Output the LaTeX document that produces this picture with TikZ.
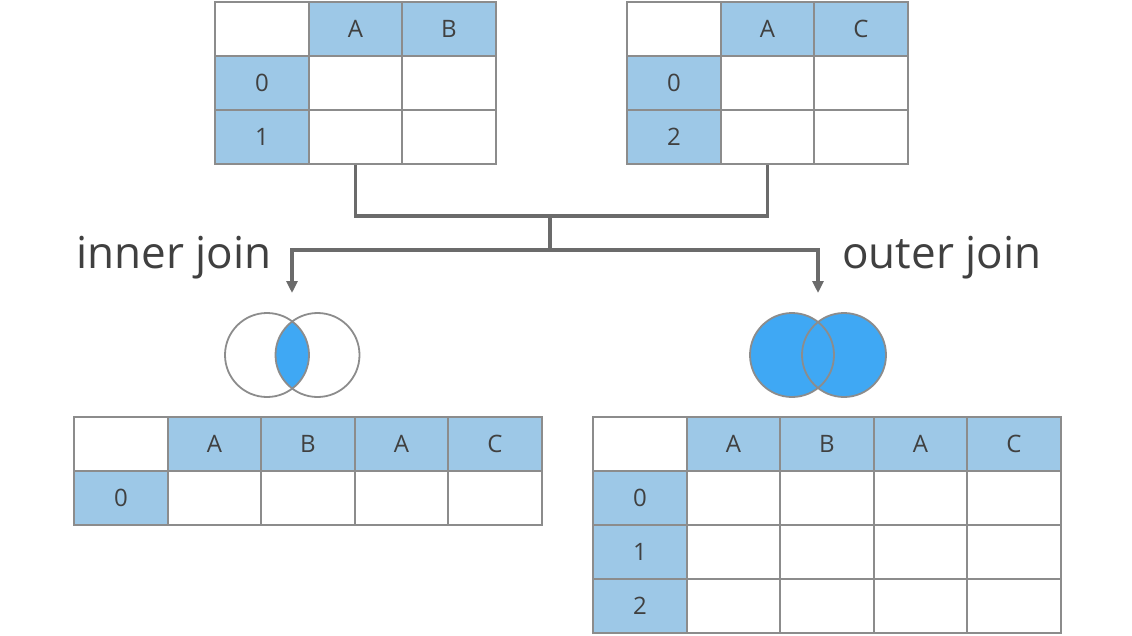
\documentclass[tikz,border=0pt]{standalone}
\usepackage{fontspec}
\setmainfont{Open Sans}
\usetikzlibrary{arrows.meta}

\definecolor{hdrblue}{HTML}{9DC8E7}
\definecolor{vennblue}{HTML}{3FA8F4}
\definecolor{gridgray}{HTML}{8C8C8C}
\definecolor{linegray}{HTML}{6B6B6B}
\definecolor{txtgray}{HTML}{404040}

\tikzset{
  cell/.style={draw=gridgray, line width=1.8pt, minimum width=93.4pt,
    minimum height=54pt, inner sep=0pt, text=txtgray,
    font=\fontsize{24}{26}\selectfont},
  hdr/.style={cell, fill=hdrblue},
  conn/.style={draw=linegray, line width=3.5pt},
  venn/.style={circle, draw=gridgray, line width=1.8pt, minimum size=84pt, inner sep=0pt},
  joinlbl/.style={anchor=base west, inner sep=0pt, text=txtgray,
    font=\fontsize{44}{48}\selectfont}
}

\begin{document}
\begin{tikzpicture}[x=1pt,y=-1pt,>={Triangle[length=12pt,width=11pt]}]
            \useasboundingbox (0,0) rectangle (1132,635);

            % Tabla izquierda
            \node[cell] (l00) at (262,29) {};
            \node[hdr] (l01) at (355.5,29) {A};
            \node[hdr] (l02) at (449,29) {B};
            \node[hdr] (l10) at (262,83) {0};
            \node[hdr] (l20) at (262,137) {1};
            \foreach \r/\y in {1/83,2/137}
              \foreach \c/\x in {1/355.5,2/449}
                \node[cell] (l\r\c) at (\x,\y) {};

            % Tabla derecha
            \node[cell] (r00) at (674,29) {};
            \node[hdr] (r01) at (767.5,29) {A};
            \node[hdr] (r02) at (861,29) {C};
            \node[hdr] (r10) at (674,83) {0};
            \node[hdr] (r20) at (674,137) {2};
            \foreach \r/\y in {1/83,2/137}
              \foreach \c/\x in {1/767.5,2/861}
                \node[cell] (r\r\c) at (\x,\y) {};

            % Inner join
            \node[cell] (i00) at (121,444) {};
            \node[hdr] (i01) at (214.5,444) {A};
            \node[hdr] (i02) at (308,444) {B};
            \node[hdr] (i03) at (401.5,444) {A};
            \node[hdr] (i04) at (495,444) {C};
            \node[hdr] (i10) at (121,498) {0};
            \foreach \c/\x in {1/214.5,2/308,3/401.5,4/495}
              \node[cell] (i1\c) at (\x,498) {};

            % Outer join
            \node[cell] (o00) at (640,444) {};
            \node[hdr] (o01) at (733.5,444) {A};
            \node[hdr] (o02) at (827,444) {B};
            \node[hdr] (o03) at (920.5,444) {A};
            \node[hdr] (o04) at (1014,444) {C};
            \node[hdr] (o10) at (640,498) {0};
            \node[hdr] (o20) at (640,552) {1};
            \node[hdr] (o30) at (640,606) {2};
            \foreach \r/\y in {1/498,2/552,3/606}
              \foreach \c/\x in {1/733.5,2/827,3/920.5,4/1014}
                \node[cell] (o\r\c) at (\x,\y) {};

            % Diagramas
            \begin{scope}
              \clip (267,355) circle (42pt);
              \fill[vennblue] (317.5,355) circle (42pt);
            \end{scope}
            \node[venn] (inL) at (267,355) {};
            \node[venn] (inR) at (317.5,355) {};
            \fill[vennblue] (792,355) circle (42pt) (844,355) circle (42pt);
            \node[venn] (outL) at (792,355) {};
            \node[venn] (outR) at (844,355) {};

            % Textos
            \node[joinlbl] (innerlbl) at (76,268) {inner join};
            \node[joinlbl] (outerlbl) at (842,268) {outer join};

            % Flechas
            \coordinate (fork) at (550,216);
            \coordinate (split) at (550,250);
            \coordinate (inTip) at (292,293);
            \coordinate (outTip) at (818,293);
            \draw[conn] (l21.south) |- (fork) -| (r21.south);
            \draw[conn] (fork) -- (split);
            \draw[conn,->] (split) -| (inTip);
            \draw[conn,->] (split) -| (outTip);
        \end{tikzpicture}
\end{document}
